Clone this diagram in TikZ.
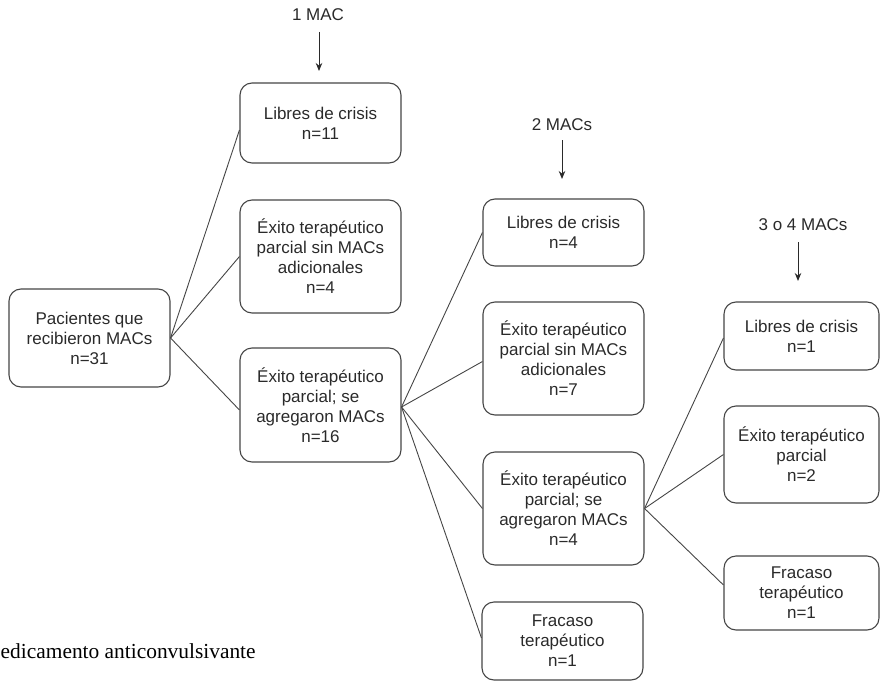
\documentclass[tikz,border=0pt]{standalone}
\usepackage{fontspec}
\setmainfont{Liberation Sans}
\newfontfamily\serifft{Liberation Serif}
\usetikzlibrary{arrows.meta}
\definecolor{ink}{HTML}{2A2A2A}
\definecolor{edge}{HTML}{454545}
\tikzset{
  box/.style={draw=edge, line width=1.1pt, rounded corners=12pt, align=center,
    text=ink, font=\fontsize{17}{20}\selectfont, inner sep=0pt},
  lbl/.style={text=ink, font=\fontsize{17}{20}\selectfont, inner sep=0pt},
  conn/.style={draw=edge, line width=0.9pt},
  darr/.style={draw=ink, line width=1pt, -{Stealth[length=8pt,width=6.5pt]}}
}
\begin{document}
\begin{tikzpicture}[x=1pt,y=-1pt]
\useasboundingbox (0,0) rectangle (880,682);
% column headers
\node[lbl] (h1) at (318,15) {1 MAC};
\node[lbl] (h2) at (562,125) {2 MACs};
\node[lbl] (h3) at (803,225) {3 o 4 MACs};
\coordinate (h1s) at (319,32); \coordinate (h1e) at (319,71);
\coordinate (h2s) at (562,140); \coordinate (h2e) at (562,179);
\coordinate (h3s) at (798,242); \coordinate (h3e) at (798,281);
\draw[darr] (h1s) -- (h1e);
\draw[darr] (h2s) -- (h2e);
\draw[darr] (h3s) -- (h3e);
% root
\node[box, minimum width=161pt, minimum height=98pt] (root) at (89.5,338) {Pacientes que\\recibieron MACs\\n=31};
% column 1
\node[box, minimum width=161pt, minimum height=80pt] (c1a) at (320.5,123) {Libres de crisis\\n=11};
\node[box, minimum width=161pt, minimum height=113pt] (c1b) at (320.5,256.5) {Éxito terapéutico\\parcial sin MACs\\adicionales\\n=4};
\node[box, minimum width=161pt, minimum height=114pt] (c1c) at (320.5,405) {Éxito terapéutico\\parcial; se\\agregaron MACs\\n=16};
% column 2
\node[box, minimum width=161pt, minimum height=67pt] (c2a) at (563.5,232.5) {Libres de crisis\\n=4};
\node[box, minimum width=161pt, minimum height=113pt] (c2b) at (563.5,358.5) {Éxito terapéutico\\parcial sin MACs\\adicionales\\n=7};
\node[box, minimum width=161pt, minimum height=113pt] (c2c) at (563.5,508.5) {Éxito terapéutico\\parcial; se\\agregaron MACs\\n=4};
\node[box, minimum width=161pt, minimum height=78pt] (c2d) at (562.5,641) {Fracaso\\terapéutico\\n=1};
% column 3
\node[box, minimum width=155pt, minimum height=68pt] (c3a) at (801.5,336) {Libres de crisis\\n=1};
\node[box, minimum width=155pt, minimum height=97pt] (c3b) at (801.5,454.5) {Éxito terapéutico\\parcial\\n=2};
\node[box, minimum width=155pt, minimum height=74pt] (c3c) at (801.5,593) {Fracaso\\terapéutico\\n=1};
% connectors
\draw[conn] (root.east) -- ([yshift=-7pt]c1a.west);
\draw[conn] (root.east) -- (c1b.west);
\draw[conn] (root.east) -- ([yshift=-5pt]c1c.west);
\draw[conn] ([yshift=-2pt]c1c.east) -- (c2a.west);
\draw[conn] ([yshift=-2pt]c1c.east) -- ([yshift=-3pt]c2b.west);
\draw[conn] ([yshift=-2pt]c1c.east) -- (c2c.west);
\draw[conn] ([yshift=-2pt]c1c.east) -- ([yshift=3pt]c2d.west);
\draw[conn] (c2c.east) -- ([yshift=-2pt]c3a.west);
\draw[conn] (c2c.east) -- (c3b.west);
\draw[conn] (c2c.east) -- ([yshift=8pt]c3c.west);
% footer
\node[anchor=base west, inner sep=0pt, text=black, font=\serifft\fontsize{21.4}{26}\selectfont] (foot) at (0.5,658) {edicamento anticonvulsivante};
\end{tikzpicture}
\end{document}
